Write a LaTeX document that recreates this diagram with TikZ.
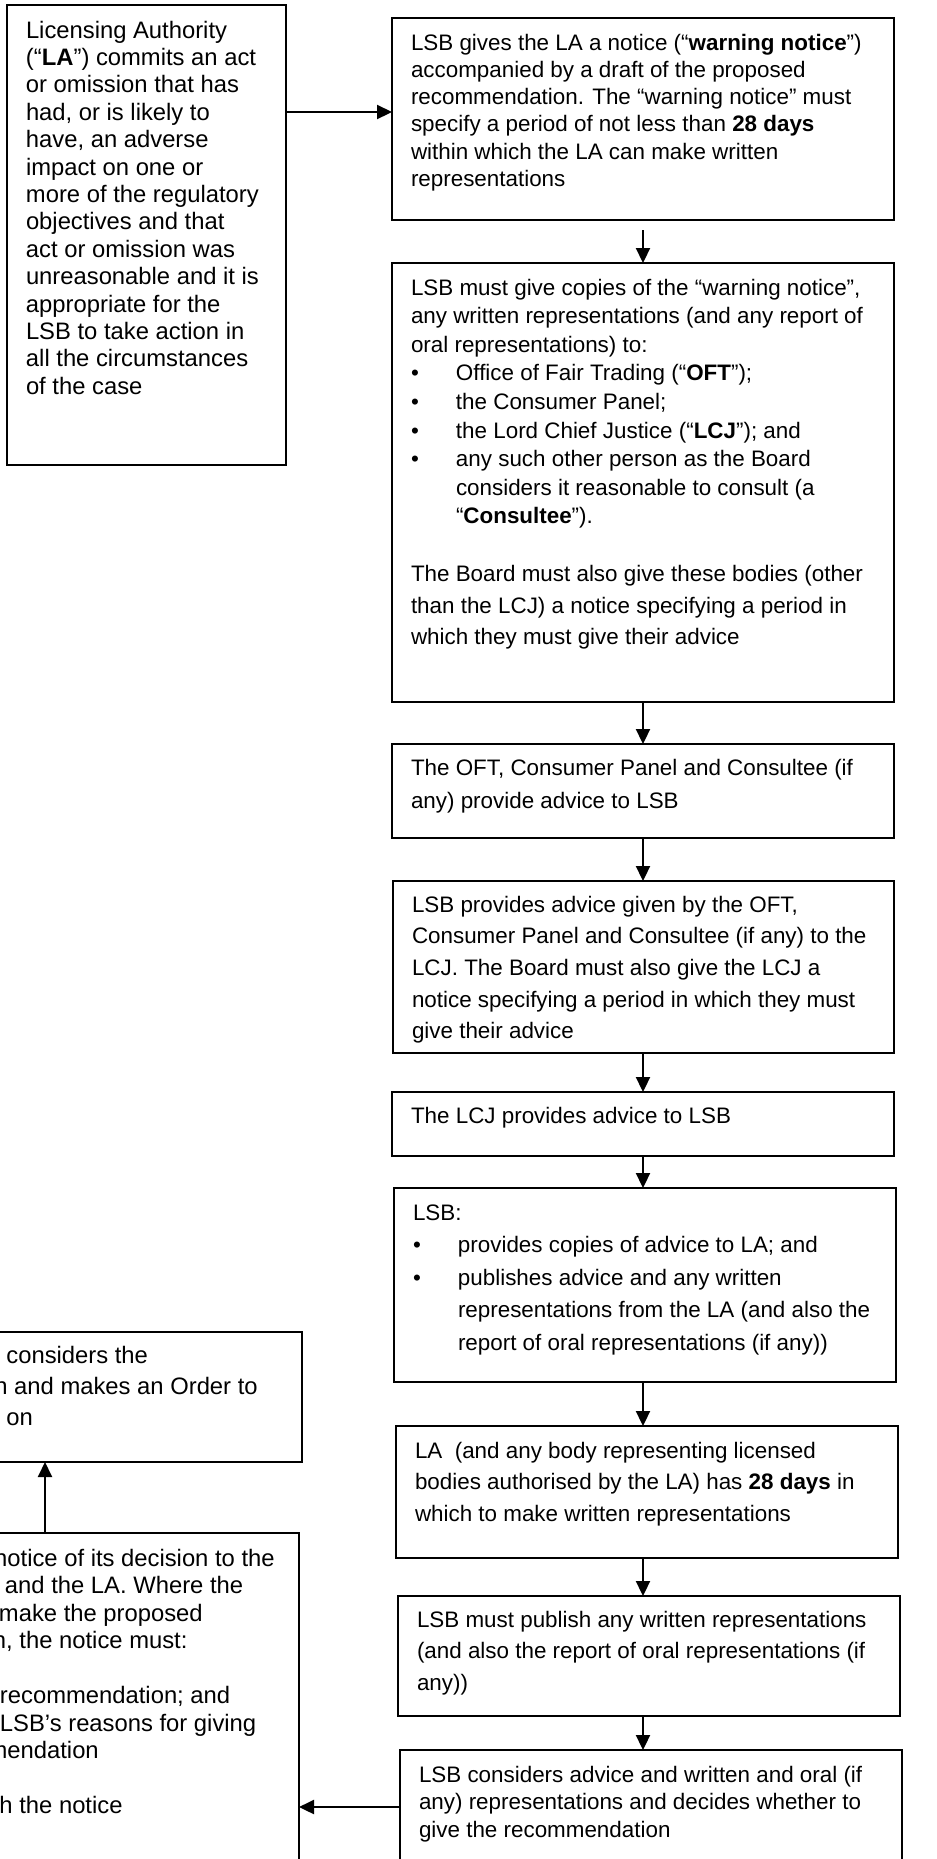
\documentclass[tikz,border=0pt]{standalone}
\usepackage{fontspec}
\setmainfont{Liberation Sans}
\usetikzlibrary{arrows.meta, calc}
\newlength{\pxu}
\setlength{\pxu}{0.5pt}
% width, height, first baseline, line spacing, text (all in px)
\newcommand{\boxtext}[5]{\parbox[t][#2\pxu][t]{#1\pxu}{\raggedright\leftskip=19\pxu\setlength{\baselineskip}{#4\pxu}\rule{0pt}{#3\pxu}#5}}
\newcommand{\bul}{\makebox[45\pxu][l]{\textbullet}}
\tikzstyle{stage} =[draw, line width=1.1pt, inner sep=0pt, outer sep=0pt, anchor=north west, font=\fontsize{11.2}{13.7}\selectfont]
\tikzstyle{side} =[stage, font=\fontsize{11.9}{13.7}\selectfont]
\tikzstyle{flow} =[line width=1.1pt, -{Triangle[length=7.5pt, width=7pt]}]

\begin{document}
\begin{tikzpicture}[x=0.5pt, y=-0.5pt]
        \useasboundingbox (0,0) rectangle (937,1859);
        \clip (0,0) rectangle (937,1859);

        % Left column
        \node[side] (la) at (7,5) {\boxtext{279}{460}{33}{27.4}{Licensing Authority\\(“\textbf{LA}”) commits an act\\or omission that has\\had, or is likely to\\have, an adverse\\impact on one or\\more of the regulatory\\objectives and that\\act or omission was\\unreasonable and it is\\appropriate for the\\LSB to take action in\\all the circumstances\\of the case}};

        \node[side] (order) at (-212,1332) {\boxtext{514}{130}{31}{31}{\hspace*{199.4\pxu}considers the\\\hspace*{187.4\pxu}n and makes an Order to\\\hspace*{199.4\pxu}on}};

        \node[side] (notice) at (-209,1533) {\boxtext{508}{347}{33}{27.5}{\hspace*{184.2\pxu}notice of its decision to the\\\hspace*{195\pxu}and the LA. Where the\\\hspace*{189\pxu}make the proposed\\\hspace*{183\pxu}n, the notice must:\\[27.5\pxu]\hspace*{190\pxu}recommendation; and\\\hspace*{190\pxu}LSB’s reasons for giving\\\hspace*{177.6\pxu}mendation\\[27.5\pxu]\hspace*{189.5\pxu}h the notice}};

        % Main column
        \node[stage] (warn) at (392,18) {\boxtext{502}{202}{32}{27.3}{LSB gives the LA a notice (“\textbf{warning notice}”)\\accompanied by a draft of the proposed\\recommendation. The “warning notice” must\\specify a period of not less than \textbf{28 days}\\within which the LA can make written\\representations}};

        \node[stage] (copies) at (392,263) {\boxtext{502}{439}{32}{28.6}{LSB must give copies of the “warning notice”,\\any written representations (and any report of\\oral representations) to:\\\bul Office of Fair Trading (“\textbf{OFT}”);\\\bul the Consumer Panel;\\\bul the Lord Chief Justice (“\textbf{LCJ}”); and\\\bul any such other person as the Board\\\hspace*{45\pxu}considers it reasonable to consult (a\\\hspace*{45\pxu}“\textbf{Consultee}”).\\[29.4\pxu]The Board must also give these bodies (other\\[2.9\pxu]than the LCJ) a notice specifying a period in\\[2.9\pxu]which they must give their advice}};

        \node[stage] (oft) at (392,744) {\boxtext{502}{94}{31}{33}{The OFT, Consumer Panel and Consultee (if\\any) provide advice to LSB}};

        \node[stage] (lsbadv) at (393,881) {\boxtext{501}{172}{31}{31.7}{LSB provides advice given by the OFT,\\Consumer Panel and Consultee (if any) to the\\LCJ. The Board must also give the LCJ a\\notice specifying a period in which they must\\give their advice}};

        \node[stage] (lcj) at (392,1092) {\boxtext{502}{64}{31}{27.4}{The LCJ provides advice to LSB}};

        \node[stage] (publish) at (394,1188) {\boxtext{502}{194}{32}{32.5}{LSB:\\\bul provides copies of advice to LA; and\\\bul publishes advice and any written\\\hspace*{45\pxu}representations from the LA (and also the\\\hspace*{45\pxu}report of oral representations (if any))}};

        \node[stage] (reps) at (396,1426) {\boxtext{502}{132}{32}{31.5}{LA\ \ (and any body representing licensed\\bodies authorised by the LA) has \textbf{28 days} in\\which to make written representations}};

        \node[stage] (pubreps) at (398,1596) {\boxtext{502}{120}{31}{31.5}{LSB must publish any written representations\\(and also the report of oral representations (if\\any))}};

        \node[stage] (decide) at (400,1750) {\boxtext{502}{114}{32}{27.5}{LSB considers advice and written and oral (if\\any) representations and decides whether to\\give the recommendation}};

        %% Arrows
        \coordinate (a0) at ([yshift=3.5pt]warn.west);
        \draw[flow] (la.east |- a0) -- (a0);

        \coordinate (col) at (warn.south);
        \draw[flow, shorten <=5pt] (warn.south) -- (copies.north);
        \foreach \a/\b in {copies/oft, oft/lsbadv, lsbadv/lcj, lcj/publish, publish/reps, reps/pubreps, pubreps/decide} {
                \draw[flow] (\a.south -| col) -- (\b.north -| col);
            }

        \draw[flow] (decide.west) -- (decide.west -| notice.east);
        \draw[flow] (notice.north) -- (order.south);

    \end{tikzpicture}
\end{document}
